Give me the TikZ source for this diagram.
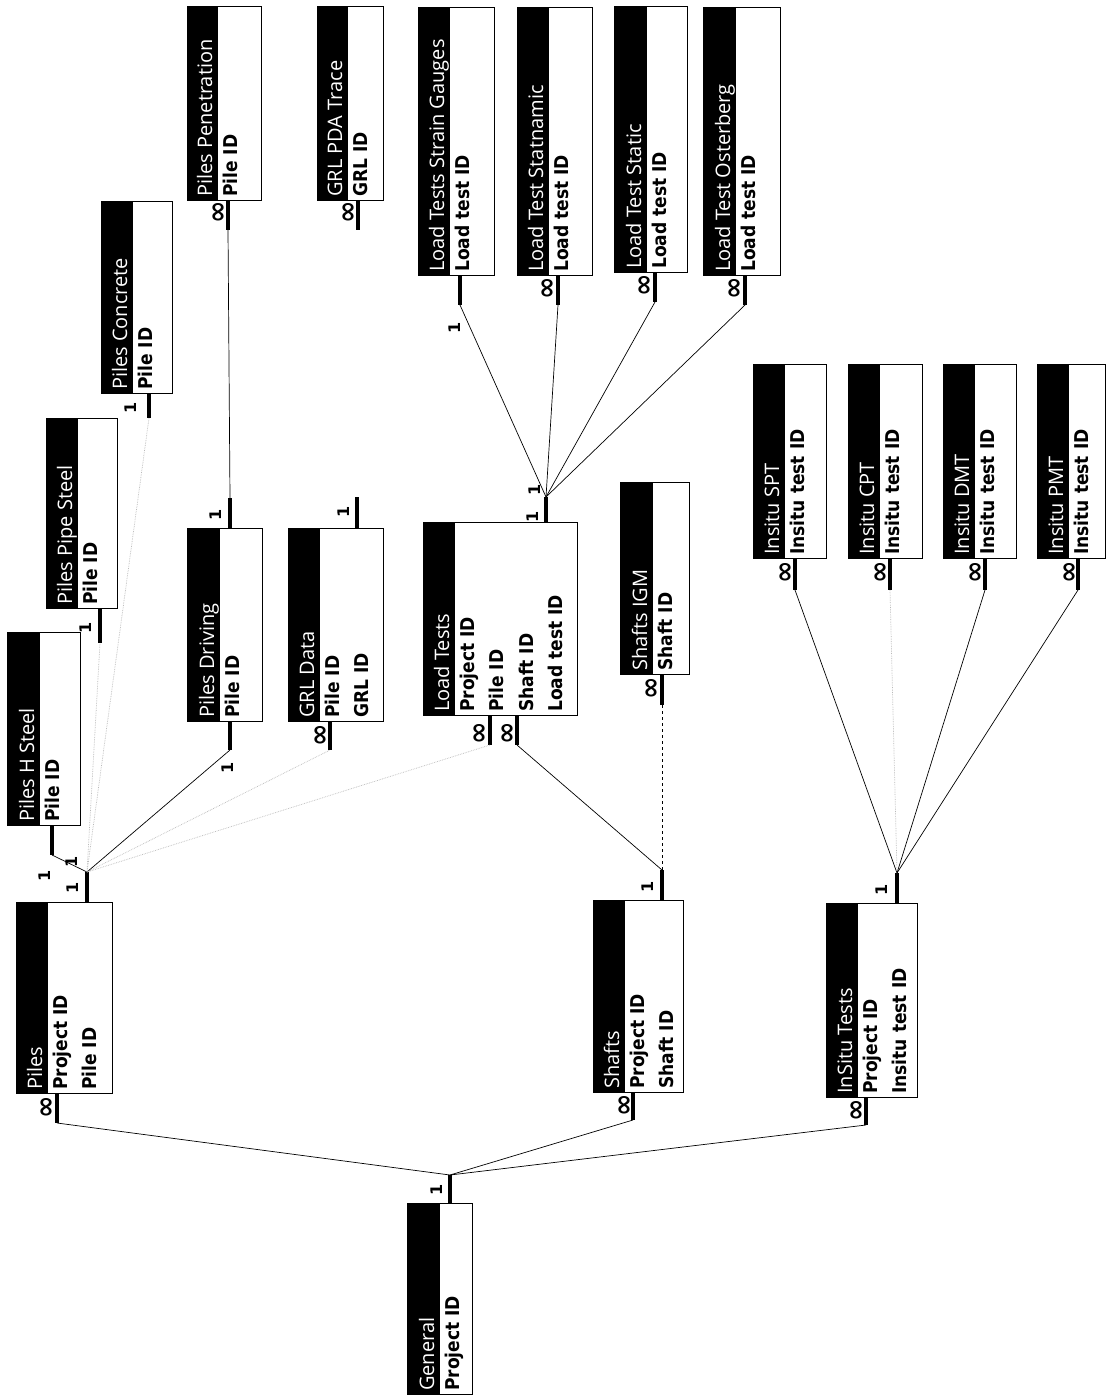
\documentclass[tikz,border=0pt]{standalone}
\usepackage{fontspec}
\newfontfamily\hdfont{Open Sans}
\newfontfamily\fdfont{DejaVu Sans Condensed}
\newfontfamily\symfont{DejaVu Sans}
\usetikzlibrary{fit}
\tikzset{
 x=1pt,y=-1pt,
 boxline/.style={draw=black,line width=1pt,fill=white},
 headfill/.style={fill=black},
 headtxt/.style={rotate=90,anchor=base west,inner sep=0,text=white,font=\hdfont\fontsize{20}{20}\selectfont},
 fieldtxt/.style={rotate=90,anchor=base west,inner sep=0,font=\fdfont\bfseries\fontsize{19}{19}\selectfont},
 onetxt/.style={rotate=90,inner sep=0,font=\symfont\bfseries\fontsize{16}{16}\selectfont},
 manytxt/.style={rotate=90,inner sep=0,font=\symfont\bfseries\fontsize{27}{27}\selectfont},
 stub/.style={line width=4.5pt},
 rel/.style={line width=0.7pt},
 faint/.style={line width=0.7pt,gray!55,densely dotted},
 dashrel/.style={line width=0.7pt,dashed},
}
\newcommand\ertab[7]{%
 \draw[boxline] (#2,#4) rectangle (#3,#5);
 \fill[headfill] (#2,#4) rectangle (#6,#5);
 \draw[line width=1pt] (#2,#4) rectangle (#3,#5);
 \node[fit={(#2,#4)(#3,#5)},inner sep=0] (#1) {};
 \node[headtxt] (#1-t) at ({#6-6},{#5-3}) {#7};
}
\newcommand\erfield[5]{\node[fieldtxt] (#1) at ({#2+19+29.5*#4},{#3-3}) {#5};}
\newcommand\erstub[4]{\coordinate (#1) at (#2,#4); \draw[stub] (#2,#3) -- (#1);}
\newcommand\erone[3]{\node[onetxt] (#1) at (#2,#3) {1};}
\newcommand\ermany[3]{\node[manytxt] (#1) at (#2,#3) {∞};}
\begin{document}
\begin{tikzpicture}
\useasboundingbox (0,0) rectangle (1107,1399);
\fill[white] (0,0) rectangle (1107,1399);

% ---------- tables ----------
\ertab{gen}{407}{472}{1203}{1394}{440}{General}
\erfield{genA}{440}{1394}{0}{Project ID}

\ertab{piles}{16}{112}{902}{1093}{48}{Piles}
\erfield{pilesA}{48}{1093}{0}{Project ID}
\erfield{pilesB2}{48}{1093}{1}{Pile ID}

\ertab{shafts}{593}{683}{900}{1092}{625}{Shafts}
\erfield{shaftsA}{625}{1092}{0}{Project ID}
\erfield{shaftsB2}{625}{1092}{1}{Shaft ID}

\ertab{insitu}{826}{917}{903}{1097}{858}{InSitu Tests}
\erfield{insituA}{858}{1097}{0}{Project ID}
\erfield{insituB2}{858}{1097}{1}{Insitu test ID}

\ertab{phs}{7}{80}{632}{825}{40}{Piles H Steel}
\erfield{phsA}{40}{825}{0}{Pile ID}

\ertab{pps}{46}{117}{418}{608}{78}{Piles Pipe Steel}
\erfield{ppsA}{78}{608}{0}{Pile ID}

\ertab{pcon}{101}{172}{201}{393}{133}{Piles Concrete}
\erfield{pconA}{133}{393}{0}{Pile ID}

\ertab{ppen}{187}{261}{7}{200}{218}{Piles Penetration}
\erfield{ppenA}{218}{200}{0}{Pile ID}

\ertab{gpda}{317}{383}{7}{200}{348}{GRL PDA Trace}
\erfield{gpdaA}{348}{200}{0}{GRL ID}

\ertab{pdrv}{187}{262}{528}{721}{220}{Piles Driving}
\erfield{pdrvA}{220}{721}{0}{Pile ID}

\ertab{grl}{288}{383}{528}{721}{320}{GRL Data}
\erfield{grlA}{320}{721}{0}{Pile ID}
\erfield{grlB2}{320}{721}{1}{GRL ID}

\ertab{lt}{423}{577}{522}{715}{455}{Load Tests}
\erfield{ltA}{455}{715}{0}{Project ID}
\erfield{ltB}{455}{715}{1}{Pile ID}
\erfield{ltC}{455}{715}{2}{Shaft ID}
\erfield{ltD}{455}{715}{3}{Load test ID}

\ertab{sigm}{620}{689}{482}{674}{653}{Shafts IGM}
\erfield{sigmA}{653}{674}{0}{Shaft ID}

\ertab{ltsg}{418}{494}{8}{275}{450}{Load Tests Strain Gauges}
\erfield{ltsgA}{450}{275}{0}{Load test ID}
\ertab{ltsn}{517}{592}{8}{275}{549}{Load Test Statnamic}
\erfield{ltsnA}{549}{275}{0}{Load test ID}
\ertab{ltst}{614}{687}{7}{272}{647}{Load Test Static}
\erfield{ltstA}{647}{272}{0}{Load test ID}
\ertab{ltos}{703}{780}{8}{275}{736}{Load Test Osterberg}
\erfield{ltosA}{736}{275}{0}{Load test ID}

\ertab{ispt}{753}{826}{364}{558}{785}{Insitu SPT}
\erfield{isptA}{785}{558}{0}{Insitu test ID}
\ertab{icpt}{848}{922}{364}{558}{880}{Insitu CPT}
\erfield{icptA}{880}{558}{0}{Insitu test ID}
\ertab{idmt}{943}{1016}{364}{558}{975}{Insitu DMT}
\erfield{idmtA}{975}{558}{0}{Insitu test ID}
\ertab{ipmt}{1037}{1105}{364}{558}{1069}{Insitu PMT}
\erfield{ipmtA}{1069}{558}{0}{Insitu test ID}

% ---------- stubs ----------
\erstub{genT}{450}{1203}{1175}
\erstub{pilesB}{57}{1093}{1123}
\erstub{pilesT}{87}{902}{872}
\erstub{shaftsB}{633}{1092}{1120}
\erstub{shaftsT}{662}{900}{870}
\erstub{insituB}{866}{1097}{1125}
\erstub{insituT}{897}{903}{873}
\erstub{phsB}{52}{825}{855}
\erstub{ppsB}{100}{608}{643}
\erstub{pconB}{149}{393}{418}
\erstub{ppenB}{228}{200}{230}
\erstub{gpdaB}{358}{200}{230}
\erstub{pdrvT}{230}{528}{498}
\erstub{pdrvB}{230}{721}{750}
\erstub{grlT}{357}{528}{497}
\erstub{grlB}{330}{721}{750}
\erstub{ltT}{546}{522}{497}
\erstub{ltB1}{490}{715}{745}
\erstub{ltB2}{517}{715}{745}
\erstub{sigmB}{662}{674}{705}
\erstub{ltsgB}{460}{275}{305}
\erstub{ltsnB}{558}{275}{305}
\erstub{ltstB}{655}{272}{302}
\erstub{ltosB}{745}{275}{305}
\erstub{isptB}{795}{558}{590}
\erstub{icptB}{890}{558}{590}
\erstub{idmtB}{985}{558}{590}
\erstub{ipmtB}{1078}{558}{590}

% ---------- connectors ----------
\draw[rel] (genT) -- (pilesB);
\draw[rel] (genT) -- (shaftsB);
\draw[rel] (genT) -- (insituB);
\draw[rel] (pilesT) -- (phsB);
\draw[faint] (pilesT) -- (ppsB);
\draw[faint] (pilesT) -- (pconB);
\draw[rel] (pilesT) -- (pdrvB);
\draw[faint] (pilesT) -- (grlB);
\draw[faint] (pilesT) -- (ltB1);
\draw[rel] (ppenB) -- (pdrvT);
\draw[rel] (ltB2) -- (shaftsT);
\draw[dashrel] (sigmB) -- (shaftsT);
\draw[rel] (ltT) -- (ltsgB);
\draw[rel] (ltT) -- (ltsnB);
\draw[rel] (ltT) -- (ltstB);
\draw[rel] (ltT) -- (ltosB);
\draw[rel] (insituT) -- (isptB);
\draw[faint] (insituT) -- (icptB);
\draw[rel] (insituT) -- (idmtB);
\draw[rel] (insituT) -- (ipmtB);

% ---------- cardinality labels ----------
\erone{o1}{437}{1190}
\erone{o2}{73}{888}
\erone{o3}{45}{876}
\erone{o4}{72}{862}
\erone{o5}{648}{887}
\erone{o6}{882}{890}
\erone{o7}{86}{628}
\erone{o8}{131}{408}
\erone{o9}{216}{515}
\erone{o10}{228}{768}
\erone{o11}{344}{512}
\erone{o12}{533}{517}
\erone{o13}{535}{490}
\erone{o14}{455}{328}

\ermany{m1}{48}{1107}
\ermany{m2}{626}{1105}
\ermany{m3}{858}{1110}
\ermany{m4}{220}{212}
\ermany{m5}{350}{212}
\ermany{m6}{322}{735}
\ermany{m7}{481}{733}
\ermany{m8}{509}{733}
\ermany{m9}{653}{688}
\ermany{m10}{549}{288}
\ermany{m11}{646}{285}
\ermany{m12}{736}{288}
\ermany{m13}{787}{572}
\ermany{m14}{882}{572}
\ermany{m15}{977}{572}
\ermany{m16}{1071}{572}
\end{tikzpicture}
\end{document}
